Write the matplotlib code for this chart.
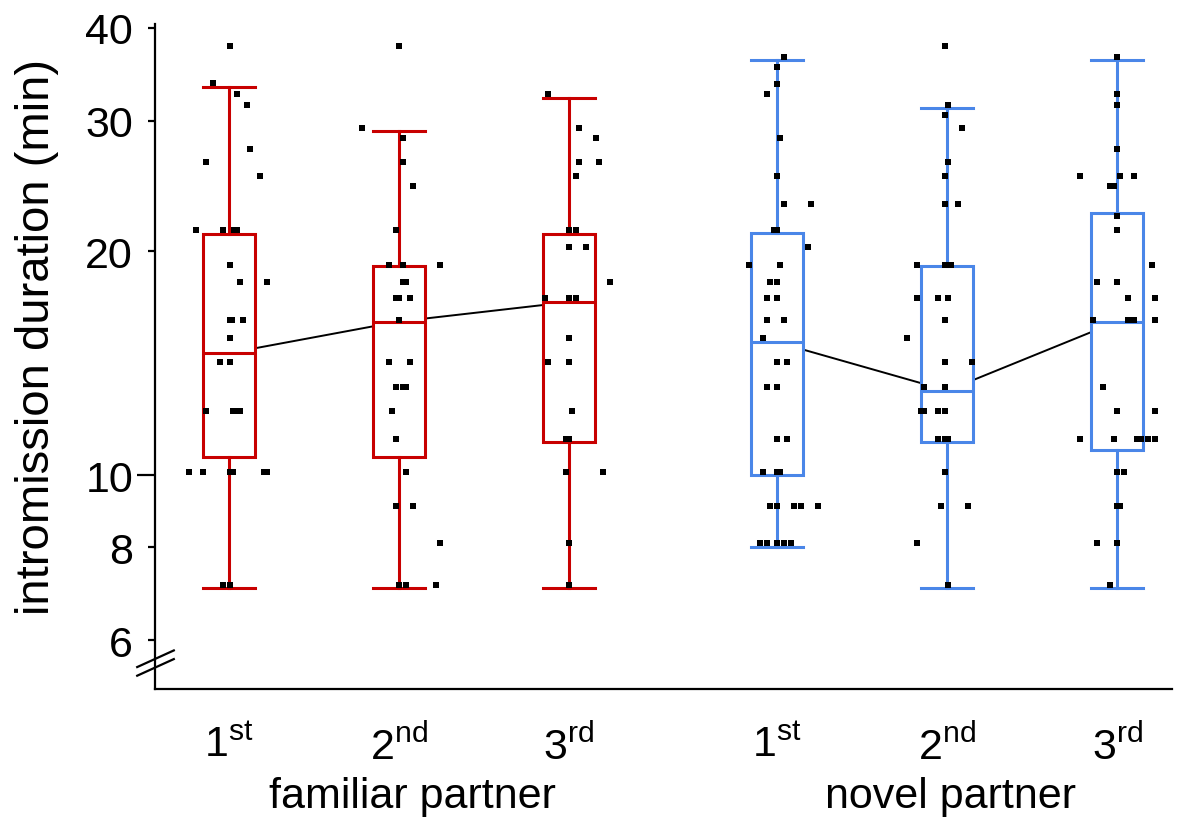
import matplotlib
matplotlib.use('Agg')
import matplotlib.pyplot as plt
import matplotlib.transforms as mtransforms
from matplotlib.ticker import FixedLocator, FuncFormatter

plt.rcParams['font.family'] = ['Liberation Sans', 'DejaVu Sans']
plt.rcParams['mathtext.fontset'] = 'custom'
plt.rcParams['mathtext.rm'] = 'Liberation Sans'
plt.rcParams['mathtext.it'] = 'Liberation Sans:italic'
plt.rcParams['mathtext.bf'] = 'Liberation Sans:bold'

# ---- data (minutes) ----
order_labels = ['1$^{\\mathrm{st}}$', '2$^{\\mathrm{nd}}$', '3$^{\\mathrm{rd}}$']
group_names = ['familiar partner', 'novel partner']

# box statistics: whislo, q1, median, q3, whishi
fam1_box = [7.06, 10.6, 14.6, 21.1, 33.3]
fam2_box = [7.06, 10.6, 16.1, 19.1, 29.0]
fam3_box = [7.06, 11.1, 17.1, 21.1, 32.2]
nov1_box = [8.0, 10.0, 15.1, 21.2, 36.2]
nov2_box = [7.06, 11.1, 13.0, 19.1, 31.2]
nov3_box = [7.06, 10.8, 16.1, 22.5, 36.2]

# individual observations and their horizontal jitter (x units)
fam1_vals = [37.8, 33.7, 32.6, 31.5, 27.5, 26.4, 25.3, 21.4, 21.4, 21.4, 21.4,
             19.2, 18.2, 18.2, 16.2, 16.2, 16.2, 15.3, 14.2, 14.2, 12.2, 12.2,
             12.2, 12.2, 10.1, 10.1, 10.1, 10.1, 10.1, 10.1, 7.13, 7.13]
fam1_jit = [0.004, -0.094, 0.045, 0.104, 0.125, -0.135, 0.184, -0.196, -0.035,
            0.029, 0.049, 0.004, 0.065, 0.225, 0.004, 0.019, 0.084, 0.004,
            -0.055, 0.004, -0.135, 0.025, 0.045, 0.065, -0.235, -0.155, 0.004,
            0.025, 0.206, 0.225, -0.035, 0.004]

fam2_vals = [37.8, 29.3, 28.4, 26.4, 24.5, 21.4, 19.2, 19.2, 19.2, 18.2, 18.2,
             17.3, 17.3, 17.3, 16.2, 14.2, 14.2, 13.15, 13.15, 13.15, 12.2,
             11.2, 10.1, 9.09, 9.09, 8.1, 7.13, 7.13, 7.13]
fam2_jit = [0.0, -0.219, 0.024, 0.024, 0.082, -0.019, -0.059, 0.024, 0.241,
            0.024, 0.043, -0.019, 0.0, 0.063, 0.0, -0.059, 0.063, -0.019, 0.024,
            0.043, -0.039, -0.019, 0.043, -0.019, 0.082, 0.241, 0.0, 0.043,
            0.219]

fam3_vals = [32.6, 29.3, 28.4, 26.4, 26.4, 25.3, 21.4, 21.4, 20.3, 20.3, 18.2,
             17.3, 17.3, 17.3, 15.3, 14.2, 14.2, 12.2, 11.2, 11.2, 10.1, 10.1,
             8.1, 7.13]
fam3_jit = [-0.122, 0.059, 0.159, 0.059, 0.178, 0.039, 0.0, 0.039, 0.0, 0.098,
            0.239, -0.141, 0.0, 0.039, 0.0, -0.122, 0.0, 0.019, -0.019, 0.0,
            -0.019, 0.2, 0.0, 0.0]

nov1_vals = [36.5, 35.4, 33.6, 32.6, 28.4, 25.3, 23.2, 23.2, 21.4, 21.4, 20.3,
             19.2, 19.2, 18.2, 18.2, 17.3, 17.3, 16.2, 16.2, 15.3, 14.2, 14.2,
             13.15, 13.15, 11.2, 11.2, 10.1, 10.1, 10.1, 9.09, 9.09, 9.09, 9.09,
             9.09, 8.1, 8.1, 8.1, 8.1, 8.1]
nov1_jit = [0.039, 0.0, 0.0, -0.061, 0.019, 0.0, 0.039, 0.2, -0.019, 0.0, 0.181,
            -0.165, 0.019, -0.041, 0.0, -0.061, 0.0, -0.061, 0.039, -0.081, 0.0,
            0.059, -0.061, 0.0, 0.0, 0.059, -0.081, 0.0, 0.019, -0.041, 0.0,
            0.1, 0.139, 0.239, -0.102, -0.061, 0.0, 0.039, 0.081]

nov2_vals = [37.8, 31.5, 30.5, 29.3, 26.4, 25.3, 23.2, 23.2, 19.2, 19.2, 19.2,
             17.3, 17.3, 17.3, 16.2, 15.3, 14.2, 14.2, 13.15, 13.15, 12.2, 12.2,
             12.2, 12.2, 11.2, 11.2, 11.2, 10.1, 9.09, 9.09, 8.1, 7.13]
nov2_jit = [-0.016, 0.004, -0.016, 0.084, 0.004, -0.016, -0.016, 0.065, -0.176,
            -0.016, 0.024, -0.176, -0.055, 0.004, -0.016, -0.237, -0.016, 0.145,
            -0.137, -0.016, -0.157, -0.137, -0.055, -0.016, -0.055, -0.016,
            0.004, -0.016, -0.035, 0.124, -0.176, 0.004]

nov3_vals = [36.5, 32.6, 31.5, 27.5, 25.3, 25.3, 25.3, 24.5, 24.5, 22.3, 21.4,
             19.2, 18.2, 18.2, 17.3, 17.3, 16.2, 16.2, 16.2, 16.2, 13.15, 12.2,
             12.2, 11.2, 11.2, 11.2, 11.2, 11.2, 11.2, 10.1, 10.1, 9.09, 9.09,
             8.1, 8.1, 7.13]
nov3_jit = [0.0, 0.0, 0.0, 0.0, -0.222, 0.019, 0.1, -0.041, -0.022, 0.0, 0.0,
            0.202, -0.119, 0.0, 0.061, 0.222, -0.141, 0.061, 0.1, 0.222, -0.081,
            0.0, 0.222, -0.222, -0.022, 0.119, 0.139, 0.181, 0.222, 0.0, 0.039,
            0.0, 0.019, -0.119, 0.0, -0.041]

box_data = [fam1_box, fam2_box, fam3_box, nov1_box, nov2_box, nov3_box]
point_vals = [fam1_vals, fam2_vals, fam3_vals, nov1_vals, nov2_vals, nov3_vals]
point_jit = [fam1_jit, fam2_jit, fam3_jit, nov1_jit, nov2_jit, nov3_jit]

# ---- layout ----
positions = [1, 2, 3, 4.225, 5.225, 6.225]
red = '#c80000'
blue = '#4a86e8'
colors = [red, red, red, blue, blue, blue]
width = 0.305

fig = plt.figure(figsize=(12, 8.29), dpi=100)
ax = fig.add_axes([155 / 1200, 139 / 829, 1017 / 1200, 665 / 829])
ax.set_yscale('log')

# median connecting lines (hidden inside the white boxes)
for g in range(2):
    idx = range(3 * g, 3 * g + 3)
    ax.plot([positions[i] for i in idx], [box_data[i][2] for i in idx],
            color='black', lw=1.4, zorder=1)

stats = [dict(whislo=b[0], q1=b[1], med=b[2], q3=b[3], whishi=b[4], fliers=[])
         for b in box_data]
bp = ax.bxp(stats, positions=positions, widths=width, capwidths=width,
            patch_artist=True, showfliers=False, manage_ticks=False)
for i, c in enumerate(colors):
    bp['boxes'][i].set(facecolor='white', edgecolor=c, linewidth=2.2, zorder=2)
    bp['medians'][i].set(color=c, linewidth=2.2, zorder=2.1)
    for art in bp['whiskers'][2 * i:2 * i + 2] + bp['caps'][2 * i:2 * i + 2]:
        art.set(color=c, linewidth=2.2, zorder=2)

for pos, vals, jit in zip(positions, point_vals, point_jit):
    ax.scatter([pos + j for j in jit], vals, marker='s', s=14, color='black',
               linewidths=0, zorder=3)

ax.set_xlim(0.565, 6.547)
ax.set_ylim(5.16, 40.45)

# y axis: a long tick at 10, short ticks elsewhere
ax.yaxis.set_major_locator(FixedLocator([10]))
ax.yaxis.set_minor_locator(FixedLocator([6, 8, 20, 30, 40]))
fmt = FuncFormatter(lambda v, p: '%g' % v)
ax.yaxis.set_major_formatter(fmt)
ax.yaxis.set_minor_formatter(fmt)
ax.tick_params(axis='y', which='major', length=13, width=1.6, pad=2.8,
               labelsize=31)
ax.tick_params(axis='y', which='minor', length=5, width=1.6, pad=10.8,
               labelsize=31)

ax.set_xticks(positions)
ax.set_xticklabels(order_labels * 2)
ax.tick_params(axis='x', length=0, pad=26, labelsize=31)

for side in ['top', 'right']:
    ax.spines[side].set_visible(False)
for side in ['left', 'bottom']:
    ax.spines[side].set_linewidth(1.6)

ax.set_ylabel('intromission duration (min)', fontsize=34)
ax.yaxis.set_label_coords(-0.094, 0.531)

trans = mtransforms.blended_transform_factory(ax.transData, ax.transAxes)
ax.text(2.08, -0.1774, group_names[0], transform=trans, ha='center',
        va='baseline', fontsize=31)
ax.text(5.247, -0.1774, group_names[1], transform=trans, ha='center',
        va='baseline', fontsize=31)

# axis break marks
for y0 in (0.020, 0.033):
    ax.plot([-0.0175, 0.0185], [y0, y0 + 0.025], transform=ax.transAxes,
            color='black', lw=1.6, clip_on=False)

fig.savefig('out.png', dpi=100)
